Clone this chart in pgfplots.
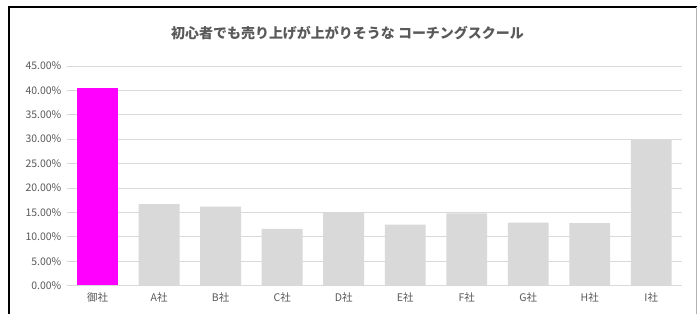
\documentclass[border=0pt]{standalone}
\usepackage{pgfplots}
\pgfplotsset{compat=1.18}
\usepackage{fontspec}
\setmainfont{Noto Sans CJK JP}
\definecolor{txtgray}{HTML}{595959}
\definecolor{gridgray}{HTML}{D9D9D9}
\definecolor{bargray}{HTML}{D9D9D9}
\definecolor{mag}{HTML}{FF00FF}
\begin{document}
\begin{tikzpicture}[x=1pt,y=1pt]
\fill[white] (0,0) rectangle (698,314);
\begin{axis}[
  at={(67pt,28pt)}, anchor=south west,
  scale only axis, width=616pt, height=220pt,
  xmin=-0.5, xmax=9.5, ymin=0, ymax=45,
  ytick={0,5,...,45},
  xtick={0,...,9},
  xticklabels={御社,A社,B社,C社,D社,E社,F社,G社,H社,I社},
  yticklabel={\pgfmathprintnumber[fixed,fixed zerofill,precision=2]{\tick}\%},
  /pgf/number format/assume math mode=true,
  ymajorgrids=true, xmajorgrids=false,
  y grid style={draw=gridgray, line width=0.8pt},
  major tick length=0pt,
  axis line style={draw=none},
  axis x line*=bottom,
  axis y line*=left,
  tick label style={font=\fontsize{10.5}{12}\selectfont, text=txtgray},
  yticklabel style={xshift=-2pt},
  xticklabel style={yshift=-4pt},
  clip=false,
]
\addplot[ybar, bar width=41pt, fill=mag, draw=none, bar shift=0pt] coordinates {(0,40.5)};
\addplot[ybar, bar width=41pt, fill=bargray, draw=none, bar shift=0pt] coordinates {
(1,16.7) (2,16.2) (3,11.6) (4,14.9) (5,12.5) (6,14.8) (7,12.9) (8,12.8) (9,29.9)};
\draw[gridgray, line width=0.8pt] (axis cs:-0.5,0) -- (axis cs:9.5,0);
\end{axis}
\node[font=\bfseries\fontsize{14}{16}\selectfont, text=txtgray] at (348,281) {初心者でも売り上げが上がりそうな コーチングスクール};
\draw[black, line width=2pt] (9,0) -- (9,307) -- (698,307);
\draw[gray!60, line width=0.8pt] (697,0) -- (697,307);
\end{tikzpicture}
\end{document}
